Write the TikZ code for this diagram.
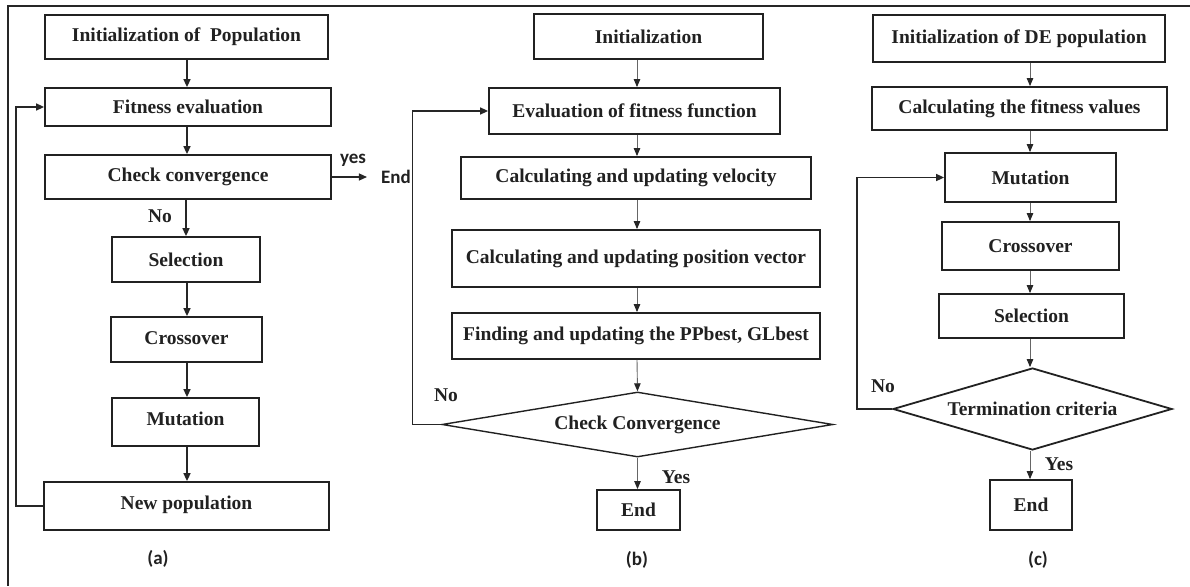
\documentclass[tikz,border=0pt]{standalone}
\usepackage{fontspec}
\setmainfont{Liberation Serif}
\newfontfamily\labelsans{Carlito}
\usetikzlibrary{shapes.geometric,arrows.meta}
\begin{document}
\begin{tikzpicture}[x=1pt,y=-1pt,
  box/.style={draw=black!87, line width=1.8pt, fill=white, inner sep=0pt,
    font=\fontsize{19.5}{22}\selectfont\bfseries, text=black!87},
  dia/.style={box, diamond, aspect=4},
  thickarrow/.style={draw=black!85, line width=1.6pt, -{Triangle[length=8pt,width=7pt]}},
  thinarrow/.style={draw=black!60, line width=0.9pt, -{Triangle[length=8pt,width=6.5pt,color=black!85]}},
  loopline/.style={draw=black!85, line width=1.6pt, -{Triangle[length=8pt,width=7pt]}},
  lbl/.style={font=\fontsize{19.5}{22}\selectfont\bfseries, text=black!87, inner sep=0pt},
  slbl/.style={font=\labelsans\fontsize{19}{22}\selectfont\bfseries, text=black!87, inner sep=0pt},
]
\useasboundingbox (0,0) rectangle (1190,586);
% frame
\draw[line width=1.4pt, black!85] (1190,6) -- (8,6) -- (8,586);

% column coordinates
\coordinate (cola) at (187,0);
\coordinate (colb) at (637,0);
\coordinate (colc) at (1030,0);

% ---------------- (a) ----------------
\node[box, minimum width=283, minimum height=44] (a1) at (186.5,37) {Initialization of\ \ Population};
\node[box, minimum width=286, minimum height=38] (a2) at (188,107) {Fitness evaluation};
\node[box, minimum width=286, minimum height=44] (a3) at (188,177) {\raisebox{3pt}{Check convergence}};
\node[box, minimum width=148, minimum height=45] (a4) at (186,259.5) {Selection};
\node[box, minimum width=151, minimum height=45] (a5) at (186.5,339.5) {\raisebox{3pt}{Crossover}};
\node[box, minimum width=147, minimum height=48] (a6) at (185.5,422) {\raisebox{6pt}{Mutation}};
\node[box, minimum width=285, minimum height=48] (a7) at (186.5,506) {\raisebox{6pt}{New population}};
\node[slbl, inner xsep=14pt] (enda) at (396,177) {End};

\draw[thickarrow] (a1.south -| cola) -- (a2.north -| cola);
\draw[thickarrow] (a2.south -| cola) -- (a3.north -| cola);
\draw[thickarrow] (a3.south -| a4) -- (a4.north);
\draw[thickarrow] (a4.south -| cola) -- (a5.north -| cola);
\draw[thickarrow] (a5.south -| cola) -- (a6.north -| cola);
\draw[thickarrow] (a6.south -| cola) -- (a7.north -| cola);
\draw[line width=1.2pt, black!85, -{Triangle[length=8pt,width=7pt]}] (a3.east) -- (enda.west);
\draw[loopline] (a7.west) -- ++(-27,0) |- (a2.west);

\node[slbl] (yesa) at (353,160) {yes};
\node[lbl] (noa) at (160,216) {No};
\node[slbl] (capa) at (158,559) {(a)};

% ---------------- (b) ----------------
\node[box, minimum width=229, minimum height=45] (b1) at (648.5,36.5) {Initialization};
\node[box, minimum width=291, minimum height=46] (b2) at (634.5,111) {Evaluation of fitness function};
\node[box, minimum width=350, minimum height=42] (b3) at (636,178) {Calculating and updating velocity};
\node[box, minimum width=368, minimum height=57] (b4) at (636,258.5) {Calculating and updating position vector};
\node[box, minimum width=368, minimum height=46] (b5) at (636,336) {Finding and updating the PPbest, GLbest};
\node[dia, line width=1.4pt, minimum width=391, minimum height=65] (b6) at (637.5,424.5) {\raisebox{3pt}{Check Convergence}};
\node[box, minimum width=83, minimum height=40] (b7) at (638.5,510) {End};

\draw[thinarrow] (b1.south -| colb) -- (b2.north -| colb);
\draw[thinarrow] (b2.south -| colb) -- (b3.north -| colb);
\draw[thinarrow] (b3.south -| colb) -- (b4.north -| colb);
\draw[thinarrow] (b4.south -| colb) -- (b5.north -| colb);
\draw[thinarrow] (b5.south -| colb) -- (b6.north);
\draw[thinarrow] (b6.south) -- (b7.north -| b6.south);
\draw[loopline] (b6.west) -- ++(-29,0) |- (b2.west);

\node[lbl] (nob) at (446,395) {No};
\node[lbl] (yesb) at (676,477) {Yes};
\node[slbl] (capb) at (637,560) {(b)};

% ---------------- (c) ----------------
\node[box, minimum width=292, minimum height=47] (c1) at (1019,38.5) {Initialization of DE population};
\node[box, minimum width=295, minimum height=43] (c2) at (1019.5,108.5) {Calculating the fitness values};
\node[box, minimum width=171, minimum height=49] (c3) at (1030.5,177.5) {Mutation};
\node[box, minimum width=177, minimum height=48] (c4) at (1030.5,246) {Crossover};
\node[box, minimum width=185, minimum height=44] (c5) at (1031.5,316) {Selection};
\node[dia, aspect=3.4, minimum width=279, minimum height=82] (c6) at (1032.5,409) {Termination criteria};
\node[box, minimum width=82, minimum height=50] (c7) at (1031,505) {End};

\draw[thinarrow] (c1.south -| colc) -- (c2.north -| colc);
\draw[thinarrow] (c2.south -| colc) -- (c3.north -| colc);
\draw[thinarrow] (c3.south -| colc) -- (c4.north -| colc);
\draw[thinarrow] (c4.south -| colc) -- (c5.north -| colc);
\draw[thinarrow] (c5.south -| colc) -- (c6.north -| colc);
\draw[thinarrow] (c6.south -| colc) -- (c7.north -| colc);
\draw[loopline] (c6.west) -- ++(-35,0) |- (c3.west);

\node[lbl] (noc) at (883,386) {No};
\node[lbl] (yesc) at (1059,464) {Yes};
\node[slbl] (capc) at (1038,560) {(c)};
\end{tikzpicture}
\end{document}
